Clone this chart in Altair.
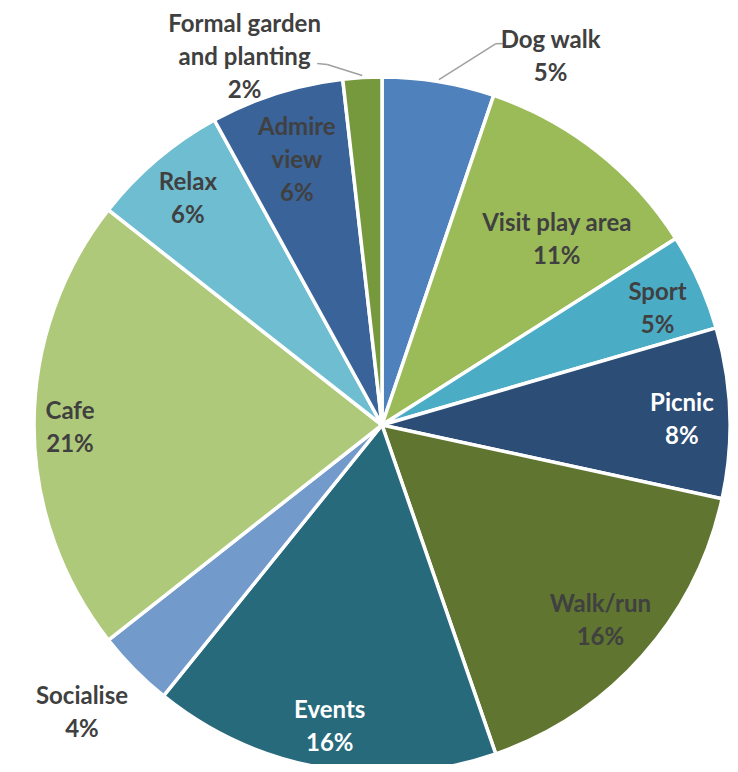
import math
import altair as alt
import pandas as pd

categories = ["Dog walk", "Visit play area", "Sport", "Picnic", "Walk/run", "Events",
              "Socialise", "Cafe", "Relax", "Admire view", "Formal garden and planting"]
values = [5.2, 10.8, 4.5, 7.9, 16.3, 16.1, 3.6, 21.2, 6.4, 6.2, 1.8]
pct_labels = ["5%", "11%", "5%", "8%", "16%", "16%", "4%", "21%", "6%", "6%", "2%"]
label_names = ["Dog walk", "Visit play area", "Sport", "Picnic", "Walk/run", "Events",
               "Socialise", "Cafe", "Relax", "Admire\nview", "Formal garden\nand planting"]
colors = ["#4F81BD", "#9BBB59", "#4BACC6", "#2C4D75", "#5F7530", "#276A7C",
          "#729ACA", "#AFC97A", "#6FBDD1", "#3A6399", "#77993D"]
three_line = ["Admire view", "Formal garden and planting"]

df = pd.DataFrame({
    "category": categories,
    "value": values,
    "pct": pct_labels,
    "name": label_names,
    "idx": list(range(len(categories))),
})
df["text"] = df["name"] + "\n" + df["pct"]

CX, CY, R = 374, 417, 348
LH = 33

arcs = alt.Chart(df).mark_arc(radius=R, stroke="white", strokeWidth=3.5).encode(
    theta=alt.Theta("value:Q", stack=True),
    order=alt.Order("idx:Q"),
    color=alt.Color("category:N", scale=alt.Scale(domain=categories, range=colors), legend=None),
    x=alt.value(CX),
    y=alt.value(CY),
)

base = (
    alt.Chart(df)
    .transform_joinaggregate(total="sum(value)")
    .transform_window(cum="sum(value)", sort=[alt.SortField("idx")], frame=[None, 0])
    .transform_calculate(mid="(datum.cum - datum.value/2) / datum.total")
)

lab_base = base.transform_calculate(
    lr="datum.category == 'Visit play area' ? 256 : datum.category == 'Admire view' ? 281 : "
       "datum.category == 'Cafe' ? 312 : datum.category == 'Socialise' ? 414 : "
       "datum.category == 'Dog walk' ? 407 : datum.category == 'Formal garden and planting' ? 396 : "
       "datum.category == 'Events' ? 304 : datum.category == 'Walk/run' ? 292 : 300",
    ma="datum.mid + (datum.category == 'Visit play area' ? 0.0136 : datum.category == 'Dog walk' ? 0.042 : "
       "datum.category == 'Formal garden and planting' ? -0.0474 : datum.category == 'Socialise' ? 0.003 : "
       "datum.category == 'Sport' ? 0.0028 : datum.category == 'Picnic' ? 0.0017 : 0)",
)

text_enc = dict(
    theta=alt.Theta("ma:Q", scale=alt.Scale(domain=[0, 1], range=[0, 2 * math.pi]), stack=False),
    radius=alt.Radius("lr:Q", scale=None),
    text="text:N",
    color=alt.condition(
        alt.FieldOneOfPredicate(field="category", oneOf=["Picnic", "Events"]),
        alt.value("white"), alt.value("#404040"),
    ),
    x=alt.value(CX),
    y=alt.value(CY),
)
text_style = dict(font="Lato", fontSize=24, fontWeight="bold", lineBreak="\n",
                  lineHeight=LH, align="center", baseline="middle")

labels2 = lab_base.transform_filter(
    {"not": alt.FieldOneOfPredicate(field="category", oneOf=three_line)}
).mark_text(dy=-LH / 2 + 3, **text_style).encode(**text_enc)

labels3 = lab_base.transform_filter(
    alt.FieldOneOfPredicate(field="category", oneOf=three_line)
).mark_text(dy=-LH + 4, **text_style).encode(**text_enc)

leaders = base.transform_filter(
    alt.FieldOneOfPredicate(field="category", oneOf=["Dog walk", "Formal garden and planting"])
).transform_calculate(
    dog="datum.category == 'Dog walk' ? 1 : 0",
).transform_calculate(
    sx=f"{CX} + {R + 2} * sin(2 * PI * datum.mid)",
    sy=f"{CY} - {R + 2} * cos(2 * PI * datum.mid)",
).transform_calculate(
    ex="datum.sx + (datum.dog ? 57 : -35)",
    ey="datum.sy + (datum.dog ? -36 : -11)",
).transform_calculate(
    fx="datum.ex + (datum.dog ? 8 : -10)",
    fy="datum.ey + (datum.dog ? 0 : -1)",
)

seg1 = leaders.mark_rule(color="#A0A0A0", strokeWidth=1.5).encode(
    x=alt.X("sx:Q", scale=None), y=alt.Y("sy:Q", scale=None),
    x2="ex:Q", y2="ey:Q",
)
seg2 = leaders.mark_rule(color="#A0A0A0", strokeWidth=1.5).encode(
    x=alt.X("ex:Q", scale=None), y=alt.Y("ey:Q", scale=None),
    x2="fx:Q", y2="fy:Q",
)

chart = alt.layer(arcs, seg1, seg2, labels2, labels3).resolve_scale(
    theta="independent"
).properties(
    width=722, height=756, padding=0,
    autosize=alt.AutoSizeParams(type="none"),
).configure_view(stroke=None)

chart.save("out.html", embed_options={"renderer": "svg", "actions": False})
